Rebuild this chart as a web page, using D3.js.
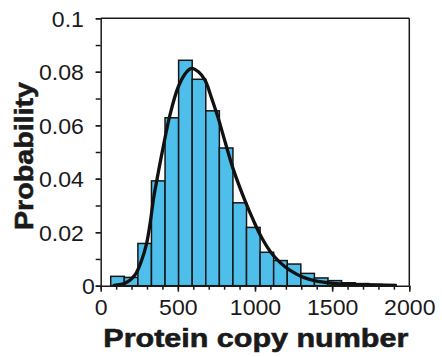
<!DOCTYPE html>
<html>
<head>
<meta charset="utf-8">
<script src="https://cdn.jsdelivr.net/npm/d3@7"></script>
<style>
  html, body { margin: 0; padding: 0; background: #fff; }
  svg { display: block; }
  text { font-family: "Liberation Sans", Arial, Helvetica, sans-serif; fill: #1a1a1a; }
</style>
</head>
<body>
<div id="chart"></div>
<script>
// ---- data ----
const binEdges = [65, 153, 241, 329, 417, 505, 593, 681, 769, 857, 945, 1033, 1121, 1209, 1297, 1385, 1473, 1561, 1649, 1737, 1825, 1913];
const binProb  = [0.0035, 0.0031, 0.0158, 0.0392, 0.0628, 0.0843, 0.0772, 0.0654, 0.0515, 0.0310, 0.0218, 0.0125, 0.0094, 0.0081, 0.0046, 0.0029, 0.0019, 0.0011, 0.0008, 0.0005, 0.0004];
const fitX = [86, 104, 157, 222, 266, 298, 320, 341, 352, 395, 449, 503, 557, 590, 633, 676, 719, 762, 806, 859, 935, 989, 1043, 1100, 1160, 1225, 1310, 1400, 1505, 1630, 1760, 1910];
const fitY = [0.0001, 0.0003, 0.0009, 0.0040, 0.0096, 0.0159, 0.0233, 0.0320, 0.0358, 0.0489, 0.0639, 0.0744, 0.0800, 0.0813, 0.0800, 0.0769, 0.0701, 0.0626, 0.0538, 0.0436, 0.0318, 0.0245, 0.0180, 0.0127, 0.0088, 0.0058, 0.0032, 0.0017, 0.0009, 0.0005, 0.0003, 0.0001];
const xTickValues = [0, 500, 1000, 1500, 2000];
const xTickLabels = ["0", "500", "1000", "1500", "2000"];
const xMinorTicks = d3.range(0, 2001, 100);
const yTickValues = [0, 0.02, 0.04, 0.06, 0.08, 0.1];
const yTickLabels = ["0", "0.02", "0.04", "0.06", "0.08", "0.1"];
const yMinorTicks = [0, 0.01, 0.02, 0.03, 0.04, 0.05, 0.06, 0.07, 0.08, 0.09, 0.1];
const xTitle = "Protein copy number";
const yTitle = "Probability";

// ---- layout ----
const W = 442, H = 357;
const L = 100.7, R = 409.3, T = 18.3, B = 285.7;

const svg = d3.select("#chart").append("svg").attr("width", W).attr("height", H);
svg.append("rect").attr("width", W).attr("height", H).attr("fill", "#fff");

const x = d3.scaleLinear().domain([0, 2000]).range([L, R]);
const y = d3.scaleLinear().domain([0, 0.1]).range([B, T]);

// bars
svg.append("g").selectAll("rect").data(binProb).join("rect")
  .attr("x", (d, i) => x(binEdges[i]))
  .attr("width", (d, i) => x(binEdges[i + 1]) - x(binEdges[i]))
  .attr("y", d => y(d))
  .attr("height", d => y(0) - y(d))
  .attr("fill", "#4ebfea")
  .attr("stroke", "#161616")
  .attr("stroke-width", 1.5);

// fitted curve
const pts = fitX.map((v, i) => [v, fitY[i]]);
svg.append("path").datum(pts)
  .attr("fill", "none")
  .attr("stroke", "#111")
  .attr("stroke-width", 3.3)
  .attr("stroke-linejoin", "round")
  .attr("stroke-linecap", "round")
  .attr("d", d3.line().x(d => x(d[0])).y(d => y(d[1])).curve(d3.curveCatmullRom.alpha(0.5)));

// axes
const axStyle = g => {
  g.selectAll("path, line").attr("stroke", "#1a1a1a").attr("stroke-width", 1.5);
};
// x minor
svg.append("g").attr("transform", `translate(0,${B})`)
  .call(d3.axisBottom(x).tickValues(xMinorTicks).tickSize(4).tickSizeOuter(0).tickFormat(""))
  .call(axStyle).call(g => g.select(".domain").remove());
// x major
const gx = svg.append("g").attr("transform", `translate(0,${B})`)
  .call(d3.axisBottom(x).tickValues(xTickValues).tickSize(6).tickSizeOuter(0)
    .tickFormat((d, i) => xTickLabels[i]).tickPadding(6))
  .call(axStyle);
gx.selectAll("text").attr("font-size", 22).attr("fill", "#1a1a1a")
  .attr("transform", "scale(1.05,1)").attr("dy", "0.78em").attr("x", 0);

// y minor
svg.append("g").attr("transform", `translate(${L},0)`)
  .call(d3.axisLeft(y).tickValues(yMinorTicks).tickSize(5).tickSizeOuter(0).tickFormat(""))
  .call(axStyle);
// y labels
const gy = svg.append("g").attr("transform", `translate(${L},0)`)
  .call(d3.axisLeft(y).tickValues(yTickValues).tickSize(5).tickSizeOuter(0)
    .tickFormat((d, i) => yTickLabels[i]).tickPadding(11))
  .call(axStyle);
gy.select(".domain").remove();
gy.selectAll("text").attr("font-size", 22).attr("fill", "#1a1a1a")
  .attr("transform", "scale(1.05,1)").attr("dy", "0.36em");
gy.selectAll(".tick").filter(d => d === 0).select("text").attr("x", -5.5);

// frame top & right
svg.append("line").attr("x1", L).attr("x2", R).attr("y1", T).attr("y2", T)
  .attr("stroke", "#1a1a1a").attr("stroke-width", 1.5);
svg.append("line").attr("x1", R).attr("x2", R).attr("y1", T).attr("y2", B)
  .attr("stroke", "#1a1a1a").attr("stroke-width", 1.5);

// titles
svg.append("text").attr("x", 103.3).attr("y", 347)
  .attr("font-size", 26).attr("font-weight", "bold")
  .attr("stroke", "#1a1a1a").attr("stroke-width", 0.6)
  .attr("textLength", 305).attr("lengthAdjust", "spacingAndGlyphs")
  .text(xTitle);
svg.append("text")
  .attr("transform", `translate(33,230) rotate(-90)`)
  .attr("font-size", 26).attr("font-weight", "bold")
  .attr("stroke", "#1a1a1a").attr("stroke-width", 0.6)
  .attr("textLength", 148).attr("lengthAdjust", "spacingAndGlyphs")
  .text(yTitle);
</script>
</body>
</html>
